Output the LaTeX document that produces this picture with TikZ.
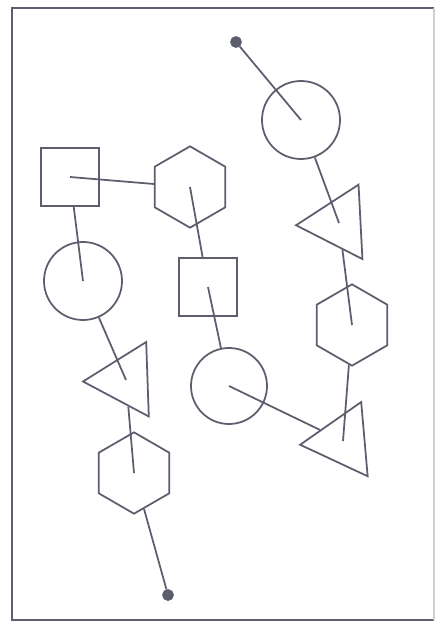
\documentclass[tikz,border=0pt]{standalone}
\usetikzlibrary{shapes.geometric}
\definecolor{ink}{RGB}{92,94,110}

\begin{document}
\begin{tikzpicture}[x=0.03cm,y=-0.03cm,line width=1.5pt,color=ink,
 every node/.style={draw,inner sep=0pt},
 ring/.style={circle,minimum size=2.34cm},
 box/.style={rectangle,minimum size=1.74cm},
 hexa/.style={regular polygon,regular polygon sides=6,shape border rotate=30,minimum size=2.44cm},
 tri/.style={regular polygon,regular polygon sides=3,shape border rotate=93,minimum size=2.58cm},
 pin/.style={circle,fill,minimum size=0.3cm}]
\useasboundingbox (0,0) rectangle (436,625);
% frame, right edge faint as in the scan
\draw[line width=1.7pt] (434,8) -- (12,8) -- (12,620) -- (434,620);
\draw[ink!30,line width=1pt] (434,8) -- (434,620);

\node[pin] (pinA) at (236,42) {};
\node[ring] (cirA) at (301,120) {};
\node[tri] (triA) at (339,223) {};
\node[hexa] (hexA) at (352,325) {};
\node[tri,shape border rotate=95] (triB) at (343,441) {};
\node[ring,minimum size=2.28cm] (cirB) at (229,386) {};
\node[box] (boxB) at (208,287) {};
\node[hexa] (hexB) at (190,187) {};
\node[box] (boxA) at (70,177) {};
\node[ring] (cirC) at (83,281) {};
\node[tri,shape border rotate=92] (triC) at (126,380) {};
\node[hexa] (hexC) at (134,473) {};
\node[pin] (pinB) at (168,595) {};

\foreach \a/\b in {pinA/cirA,cirA/triA,triA/hexA,hexA/triB,triB/cirB,cirB/boxB,
  boxB/hexB,hexB/boxA,boxA/cirC,cirC/triC,triC/hexC}
  \draw (\a) -- (\b.center);
\draw (hexC) -- (pinB);
\end{tikzpicture}
\end{document}
